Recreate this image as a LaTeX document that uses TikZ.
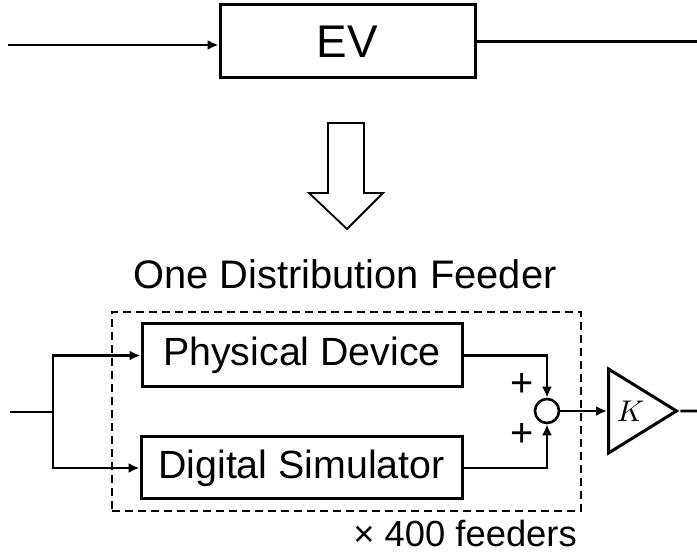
\documentclass[tikz,border=0pt]{standalone}
\usepackage{graphicx}
\usepackage{fontspec}
\setmainfont{Liberation Sans}
\usetikzlibrary{arrows.meta,shapes.geometric}
\usetikzlibrary{positioning}
\tikzstyle{block} = [rectangle, draw=black, line width=3bp, inner sep=0pt, font=\fontsize{39.5}{41}\selectfont]
\tikzstyle{sig} = [line width=2.6bp, -{Latex[length=11bp,width=10bp]}]
\tikzstyle{plain} = [line width=2.6bp]

\begin{document}
\begin{tikzpicture}[x=1bp, y=1bp]
\useasboundingbox (0,0) rectangle (697,554);
\clip (0,0) rectangle (697,554);

\node (ev) [block, minimum width=255bp, minimum height=73bp, font=\fontsize{46}{48}\selectfont] at (347.5,512.5) {EV};
\coordinate (evin) at (8,509);
\coordinate (evout) at (708,512);
\draw [sig] (evin) -- (evin -| ev.west);
\draw [sig] (ev.east) -- (ev.east -| evout);

\draw [line width=1.8bp] (328,431) -- (328,361) -- (309,361) -- (347,325) -- (383,361) -- (364,361) -- (364,431) -- cycle;

\node (title) [anchor=base, font=\fontsize{40}{42}\selectfont] at (345,265) {One Distribution Feeder};
\node (feeder) [draw, dash pattern=on 8bp off 5bp, line width=2.8bp, minimum width=469bp, minimum height=199bp, inner sep=0pt] at (346.5,142.5) {};

\node (phys) [block, minimum width=320bp, minimum height=63bp] at (302,198.5) {Physical Device};
\node (digi) [block, minimum width=321bp, minimum height=62bp] at (301.5,86) {Digital Simulator};

\node (sum) [circle, draw, line width=2.6bp, minimum size=24bp, inner sep=0pt] at (547,143) {};
\node (plus1) [font=\fontsize{40}{42}\selectfont, inner sep=0pt] at (522,169) {+};
\node (plus2) [font=\fontsize{40}{42}\selectfont, inner sep=0pt] at (522,119) {+};

\node (gain) [isosceles triangle, isosceles triangle stretches, draw, line width=3bp, minimum width=84bp, minimum height=68bp, inner sep=0pt, anchor=west] at (607,143) {\scalebox{3}{$K$}};

% input split
\coordinate (in) at (10,142);
\coordinate (split) at (53,142);
\draw [plain] (in) -- (split);
\draw [sig] (split) |- (phys.west);
\draw [sig] (split) |- (digi.west);

\draw [sig] (phys.east) -| (sum.north);
\draw [sig] (digi.east) -| (sum.south);
\draw [sig] (sum.east) -- (gain.west);
\coordinate (out) at (697,143);
\draw [plain] (gain.apex) -- (out);

\node (count) [anchor=base east, inner sep=0pt, font=\fontsize{36.5}{38}\selectfont] at (577,7) {× 400 feeders};
\end{tikzpicture}
\end{document}
